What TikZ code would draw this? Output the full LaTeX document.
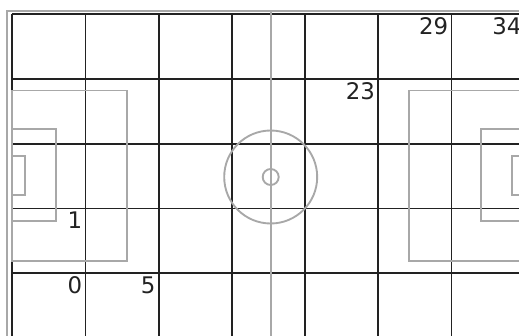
\documentclass[tikz,border=0pt]{standalone}
\usepackage{fontspec}
\setmainfont{DejaVu Sans}
\usetikzlibrary{positioning}
\definecolor{FieldGray}{RGB}{168,168,168}
\definecolor{GridDark}{RGB}{34,34,34}

\begin{document}
\begin{tikzpicture}[x=0.03cm, y=-0.03cm,
            fieldline/.style={draw=FieldGray, line width=1.6pt},
            gridline/.style={draw=GridDark, line width=1.5pt},
            cellnum/.style={anchor=north east, inner sep=2.6pt, text=GridDark, font=\fontsize{19.5}{20}\selectfont}
        ]
        \useasboundingbox (0,0) rectangle (519,336);
        \clip (0,0) rectangle (519,336);

        % The Grid
        \foreach \c in {0,...,7}
            \draw[gridline] ({12.3+73.2*\c}, 14.3) -- ({12.3+73.2*\c}, 345);
        \foreach \r in {0,...,5}
            \draw[gridline] (12.3, {14.3+64.75*\r}) -- (530, {14.3+64.75*\r});

        % The Pitch
        \draw[fieldline] (7.3, 11) rectangle (534.1, 342.4);
        \draw[fieldline] (270.7, 11) -- (270.7, 342.4);
        \draw[fieldline] (270.7, 177) circle (46.5);
        \draw[fieldline] (270.7, 177) circle (8);

        % Left end
        \draw[fieldline] (12.3, 90.5) rectangle (126.7, 261);
        \draw[fieldline] (12.3, 129) rectangle (55.7, 221);
        \draw[fieldline] (12.3, 156) rectangle (25, 195);

        % Right end
        \draw[fieldline] (408.7, 90.5) rectangle (529.1, 261);
        \draw[fieldline] (480.7, 129) rectangle (529.1, 221);
        \draw[fieldline] (511.7, 156) rectangle (529.1, 195);

        % Cell numbers
        \foreach \n/\c/\r in {0/0/4, 1/0/3, 5/1/4, 23/4/1, 29/5/0, 34/6/0}
            \node[cellnum] (cell\n) at ({12.3+73.2*(\c+1)}, {14.3+64.75*\r}) {\n};

\end{tikzpicture}
\end{document}
